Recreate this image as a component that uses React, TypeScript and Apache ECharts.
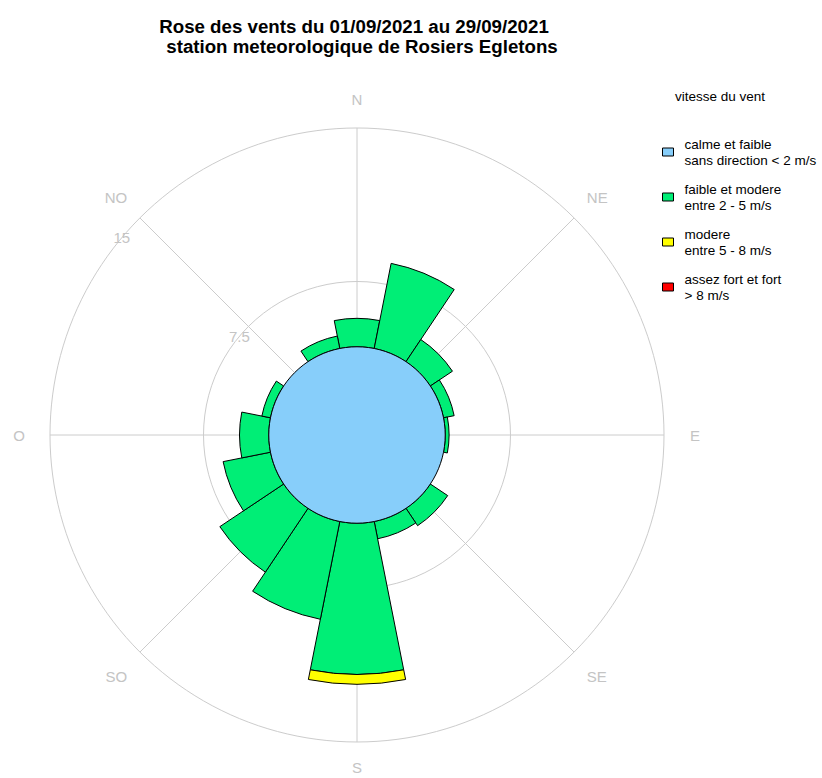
import React, { useEffect, useRef } from "react";
import * as echarts from "echarts";

// ---- data ----
const directions = ["N", "NNE", "NE", "ENE", "E", "ESE", "SE", "SSE", "S", "SSO", "SO", "OSO", "O", "ONO", "NO", "NNO"];
const calmValue = 4.31;
const greenValues = [1.39, 4.24, 1.3, 0.53, 0.19, 0, 1.02, 0.86, 7.39, 4.87, 3.75, 2.36, 1.43, 0.43, 0, 0.62];
const yellowValues = [0, 0, 0, 0, 0, 0, 0, 0, 0.48, 0, 0, 0, 0, 0, 0, 0];
const redValues = [0, 0, 0, 0, 0, 0, 0, 0, 0, 0, 0, 0, 0, 0, 0, 0];
const gridLabels = ["NO", "N", "NE", "E", "SE", "S", "SO", "O"];
const radiusTicks = [0, 7.5, 15];
const seriesNames = [
  "calme et faible\nsans direction < 2 m/s",
  "faible et modere\nentre 2 - 5 m/s",
  "modere\nentre 5 - 8 m/s",
  "assez fort et fort\n> 8 m/s",
];
const seriesColors = ["#87CEFA", "#00EE76", "#FFFF00", "#FF0000"];
const titleLines = ["Rose des vents du 01/09/2021 au 29/09/2021", "station meteorologique de Rosiers Egletons"];
const legendTitle = "vitesse du vent";

const FONT = "'Liberation Sans', Arial, sans-serif";
const GRID = "#cccccc";
const LABEL = "#c4c4c4";

// label nudges (style only)
const labelPadding: Record<string, number[]> = {
  N: [0, 0, 3, 0],
  S: [0, 0, 0, 0],
  E: [0, 0, 0, 8],
  O: [0, 7, 0, 0],
  NE: [0, 0, 0, 0],
  SE: [4, 0, 0, 0],
  SO: [4, 0, 0, 0],
  NO: [0, 0, 0, 0],
};

const toBar = (arr: number[]) => arr.map((v) => (v === 0 ? "-" : v));

export default function App() {
  const ref = useRef<HTMLDivElement>(null);
  useEffect(() => {
    if (!ref.current) return;
    const chart = echarts.init(ref.current, null, { renderer: "svg" });
    const center = [357, 435];
    const radius = 307;
    const rich: any = {};
    gridLabels.forEach((l) => {
      rich[l] = { fontSize: 15, color: LABEL, fontFamily: FONT, padding: labelPadding[l] };
    });
    const hiddenAngle = (polarIndex: number, startAngle: number) => ({
      polarIndex,
      type: "value",
      min: 0,
      max: 360,
      startAngle,
      clockwise: true,
      axisLine: { show: false },
      axisTick: { show: false },
      axisLabel: { show: false },
      splitLine: { show: false },
    });
    const option: any = {
      animation: false,
      backgroundColor: "#ffffff",
      textStyle: { fontFamily: FONT },
      title: [
        { text: titleLines[0], left: 349, top: 11.5, textAlign: "center", textStyle: { fontSize: 18.7, fontWeight: "bold", color: "#000", fontFamily: FONT } },
        { text: titleLines[1], left: 357, top: 32, textAlign: "center", textStyle: { fontSize: 18.7, fontWeight: "bold", color: "#000", fontFamily: FONT } },
        { text: legendTitle, left: 670, top: 84, textStyle: { fontSize: 13.5, fontWeight: "normal", color: "#000", fontFamily: FONT } },
      ],
      legend: {
        orient: "vertical",
        left: 662,
        top: 131,
        padding: 0,
        itemWidth: 11,
        itemHeight: 8,
        itemGap: 3,
        icon: "rect",
        selectedMode: false,
        textStyle: { fontSize: 13.5, lineHeight: 16, color: "#000", fontFamily: FONT, padding: [10, 0, 0, 6] },
        data: seriesNames.map((n, i) => ({ name: n, itemStyle: { color: seriesColors[i], borderColor: "#000", borderWidth: 1 } })),
      },
      polar: [
        { center, radius },
        { center, radius },
        { center, radius },
      ],
      angleAxis: [
        {
          polarIndex: 0,
          type: "value",
          min: 0,
          max: 360,
          interval: 45,
          startAngle: 135,
          clockwise: true,
          axisLine: { show: false },
          axisTick: { show: false },
          splitLine: { show: true, lineStyle: { color: GRID, width: 1 } },
          axisLabel: {
            show: true,
            margin: 18,
            fontSize: 15,
            color: LABEL,
            fontFamily: FONT,
            rich,
            formatter: (v: number) => {
              if (v >= 360) return "";
              const l = gridLabels[Math.round(v / 45)];
              return `{${l}|${l}}`;
            },
          },
        },
        {
          polarIndex: 1,
          type: "category",
          data: directions,
          startAngle: 90 + 180 / directions.length,
          clockwise: true,
          axisLine: { show: false },
          axisTick: { show: false },
          axisLabel: { show: false },
          splitLine: { show: false },
        },
        hiddenAngle(2, 140),
      ],
      radiusAxis: [
        {
          polarIndex: 0,
          type: "value",
          min: radiusTicks[0],
          max: radiusTicks[radiusTicks.length - 1],
          interval: radiusTicks[1] - radiusTicks[0],
          axisLine: { show: false },
          axisTick: { show: false },
          splitLine: { show: true, lineStyle: { color: GRID, width: 1 } },
          axisLabel: { show: false },
        },
        {
          polarIndex: 1,
          type: "value",
          min: radiusTicks[0],
          max: radiusTicks[radiusTicks.length - 1],
          axisLine: { show: false },
          axisTick: { show: false },
          axisLabel: { show: false },
          splitLine: { show: false },
        },
        {
          polarIndex: 2,
          type: "value",
          min: radiusTicks[0],
          max: radiusTicks[radiusTicks.length - 1],
          interval: radiusTicks[1] - radiusTicks[0],
          axisLine: { show: false },
          axisTick: { show: false },
          splitLine: { show: false },
          axisLabel: {
            show: true,
            margin: 0,
            align: "center",
            verticalAlign: "middle",
            fontSize: 15,
            color: LABEL,
            fontFamily: FONT,
            formatter: (v: number) => (v === 0 ? "" : String(v)),
          },
        },
      ],
      series: [
        {
          type: "bar",
          coordinateSystem: "polar",
          polarIndex: 1,
          stack: "wind",
          barCategoryGap: "0%",
          silent: true,
          data: directions.map(() => calmValue),
          itemStyle: { color: "rgba(0,0,0,0)", borderWidth: 0 },
        },
        {
          name: seriesNames[1],
          type: "bar",
          coordinateSystem: "polar",
          polarIndex: 1,
          stack: "wind",
          barCategoryGap: "0%",
          data: toBar(greenValues),
          itemStyle: { color: seriesColors[1], borderColor: "#000", borderWidth: 1 },
        },
        {
          name: seriesNames[2],
          type: "bar",
          coordinateSystem: "polar",
          polarIndex: 1,
          stack: "wind",
          barCategoryGap: "0%",
          data: toBar(yellowValues),
          itemStyle: { color: seriesColors[2], borderColor: "#000", borderWidth: 1 },
        },
        {
          name: seriesNames[3],
          type: "bar",
          coordinateSystem: "polar",
          polarIndex: 1,
          stack: "wind",
          barCategoryGap: "0%",
          data: toBar(redValues),
          itemStyle: { color: seriesColors[3], borderColor: "#000", borderWidth: 1 },
        },
        {
          name: seriesNames[0],
          type: "custom",
          coordinateSystem: "polar",
          polarIndex: 1,
          z: 5,
          silent: true,
          itemStyle: { color: seriesColors[0] },
          data: [[calmValue, 0]],
          renderItem: (params: any, api: any) => {
            const cs = params.coordSys;
            const p = api.coord([api.value(0), api.value(1)]);
            const r = Math.hypot(p[0] - cs.cx, p[1] - cs.cy);
            return {
              type: "circle",
              shape: { cx: cs.cx, cy: cs.cy, r },
              style: { fill: seriesColors[0], stroke: "#000", lineWidth: 1 },
            };
          },
        },
      ],
    };
    chart.setOption(option);
    return () => chart.dispose();
  }, []);
  return <div ref={ref} style={{ position: "absolute", left: 0, top: 0, width: 822, height: 778 }} />;
}
